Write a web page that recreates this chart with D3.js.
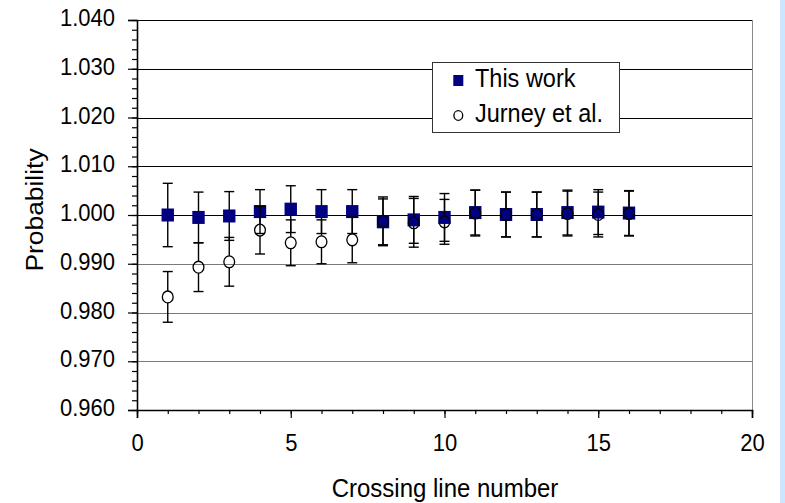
<!DOCTYPE html>
<html>
<head>
<meta charset="utf-8">
<script src="https://cdn.jsdelivr.net/npm/d3@7"></script>
<style>
  html, body { margin: 0; padding: 0; background: #fff; }
  svg { display: block; font-family: "Liberation Sans", Arial, sans-serif; }
</style>
</head>
<body>
<svg id="chart" width="785" height="503"></svg>
<script>
// Crossing line numbers
const crossing = [1, 2, 3, 4, 5, 6, 7, 8, 9, 10, 11, 12, 13, 14, 15, 16];

// "This work" probabilities and their error bar half-widths
const thisWork    = [1.0000, 0.9995, 0.9998, 1.0007, 1.0012, 1.0007, 1.0007, 0.9986,
                     0.9990, 0.9995, 1.0005, 1.0001, 1.0001, 1.0005, 1.0006, 1.0004];
const thisWorkErr = [0.0065, 0.0052, 0.0050, 0.0045, 0.0048, 0.0045, 0.0045, 0.0047,
                     0.0048, 0.0049, 0.0046, 0.0046, 0.0046, 0.0046, 0.0046, 0.0046];

// Jurney et al. probabilities and their error bar half-widths
const jurney    = [0.9832, 0.9893, 0.9904, 0.9969, 0.9943, 0.9945, 0.9949, 0.9987,
                   0.9984, 0.9986, 1.0004, 1.0001, 1.0001, 1.0003, 1.0001, 1.0003];
const jurneyErr = [0.0052, 0.0050, 0.0050, 0.0049, 0.0047, 0.0045, 0.0047, 0.0050,
                   0.0050, 0.0046, 0.0047, 0.0046, 0.0046, 0.0046, 0.0046, 0.0046];

// Axis ticks
const yTicks = [0.960, 0.970, 0.980, 0.990, 1.000, 1.010, 1.020, 1.030, 1.040];
const xTicks = [0, 5, 10, 15, 20];
const seriesNames = ["This work", "Jurney et al."];

const svg = d3.select("#chart");
const W = 785, H = 503;
const plot = { left: 137, right: 752, top: 20, bottom: 410 };
const stretch = 1.1;      // glyphs are drawn slightly tall
const navy = "#000080";

// Light blue strip along the right edge of the page
svg.append("rect").attr("x", 780).attr("y", 0).attr("width", 5).attr("height", H)
  .attr("fill", "#cce7fd");

const x = d3.scaleLinear().domain([0, 20]).range([plot.left, plot.right]);
const y = d3.scaleLinear().domain([0.960, 1.040]).range([plot.bottom, plot.top]);

// Horizontal gridlines
svg.append("g").selectAll("line")
  .data(yTicks.filter(d => d > 0.960))
  .join("line")
  .attr("x1", plot.left).attr("x2", plot.right)
  .attr("y1", d => Math.round(y(d)) + 0.5).attr("y2", d => Math.round(y(d)) + 0.5)
  .attr("stroke", d => d >= 0.9995 ? "#000" : "#7a7a7a")
  .attr("stroke-width", 1);

// Right border of the plot area
svg.append("line")
  .attr("x1", plot.right + 0.5).attr("x2", plot.right + 0.5)
  .attr("y1", plot.top).attr("y2", plot.bottom)
  .attr("stroke", "#8a8a8a").attr("stroke-width", 1);

// Y axis: minor ticks every 0.002, major ticks every 0.010
const yMinor = d3.range(0.960, 1.0401, 0.002);
svg.append("g").attr("transform", `translate(${plot.left},0)`)
  .call(d3.axisLeft(y).tickValues(yMinor).tickSize(5).tickFormat(""))
  .call(g => g.select(".domain").remove())
  .call(g => g.selectAll("line").attr("stroke", "#000").attr("stroke-width", 1.2));

const yAxis = svg.append("g").attr("transform", `translate(${plot.left},0)`)
  .call(d3.axisLeft(y).tickValues(yTicks).tickSize(9).tickPadding(13)
        .tickFormat(d3.format(".3f")));
yAxis.select(".domain").attr("stroke", "#000").attr("stroke-width", 1.6);
yAxis.selectAll("line").attr("stroke", "#000").attr("stroke-width", 1.2);
yAxis.selectAll("text")
  .attr("font-size", 22).attr("fill", "#000")
  .attr("dy", null).attr("y", 5.7 / stretch)
  .attr("transform", `scale(1,${stretch})`)
  .style("font-family", "'Liberation Sans', Arial, sans-serif");

// X axis: minor ticks every 1, major ticks every 5
svg.append("g").attr("transform", `translate(0,${plot.bottom})`)
  .call(d3.axisBottom(x).tickValues(d3.range(0, 21, 1)).tickSize(4).tickFormat(""))
  .call(g => g.select(".domain").remove())
  .call(g => g.selectAll("line").attr("stroke", "#000").attr("stroke-width", 1.2));

const xAxis = svg.append("g").attr("transform", `translate(0,${plot.bottom})`)
  .call(d3.axisBottom(x).tickValues(xTicks).tickSize(8).tickFormat(d3.format("d")));
xAxis.select(".domain").attr("stroke", "#000").attr("stroke-width", 1.6);
xAxis.selectAll("line").attr("stroke", "#000").attr("stroke-width", 1.2);
xAxis.selectAll("text")
  .attr("font-size", 22).attr("fill", "#000")
  .attr("dy", null).attr("y", 41.5 / stretch)
  .attr("transform", `scale(1,${stretch})`)
  .style("font-family", "'Liberation Sans', Arial, sans-serif");

// Axis titles
svg.append("text")
  .attr("transform", `translate(445,496.5) scale(1,${stretch})`)
  .attr("text-anchor", "middle").attr("font-size", 24).attr("fill", "#000")
  .text("Crossing line number");

svg.append("text")
  .attr("transform", `translate(42.5,210) rotate(-90) scale(${stretch},1)`)
  .attr("text-anchor", "middle").attr("font-size", 24).attr("fill", "#000")
  .text("Probability");

const capHalf = 5;
const rows1 = crossing.map((c, i) => ({ c, v: thisWork[i], e: thisWorkErr[i] }));
const rows2 = crossing.map((c, i) => ({ c, v: jurney[i], e: jurneyErr[i] }));

// Error bars for "This work"
function errorBars(g, rows, gap) {
  const bars = g.selectAll("g").data(rows).join("g");
  bars.append("line")
    .attr("x1", d => x(d.c)).attr("x2", d => x(d.c))
    .attr("y1", d => y(d.v + d.e)).attr("y2", d => y(d.v) - gap);
  bars.append("line")
    .attr("x1", d => x(d.c)).attr("x2", d => x(d.c))
    .attr("y1", d => y(d.v) + gap).attr("y2", d => y(d.v - d.e));
  bars.append("line")
    .attr("x1", d => x(d.c) - capHalf).attr("x2", d => x(d.c) + capHalf)
    .attr("y1", d => y(d.v + d.e)).attr("y2", d => y(d.v + d.e));
  bars.append("line")
    .attr("x1", d => x(d.c) - capHalf).attr("x2", d => x(d.c) + capHalf)
    .attr("y1", d => y(d.v - d.e)).attr("y2", d => y(d.v - d.e));
  bars.selectAll("line").attr("stroke", "#000").attr("stroke-width", 1.4);
}

errorBars(svg.append("g"), rows1, 0);

// "This work" square markers
svg.append("g").selectAll("rect").data(rows1).join("rect")
  .attr("x", d => x(d.c) - 6.2).attr("y", d => y(d.v) - 6.5)
  .attr("width", 12.4).attr("height", 13)
  .attr("fill", navy);

// Jurney et al. error bars and open circle markers
errorBars(svg.append("g"), rows2, 6);
svg.append("g").selectAll("ellipse").data(rows2).join("ellipse")
  .attr("cx", d => x(d.c)).attr("cy", d => y(d.v))
  .attr("rx", 5.4).attr("ry", 5.9)
  .attr("fill", "none").attr("stroke", "#000").attr("stroke-width", 1.3);

// Legend
const legend = svg.append("g");
legend.append("rect")
  .attr("x", 432.5).attr("y", 62.5).attr("width", 187).attr("height", 70)
  .attr("fill", "#fff").attr("stroke", "#333").attr("stroke-width", 1);
legend.append("rect")
  .attr("x", 453.3).attr("y", 75).attr("width", 10).attr("height", 11)
  .attr("fill", navy);
legend.append("ellipse")
  .attr("cx", 458.3).attr("cy", 115.5).attr("rx", 4.4).attr("ry", 4.8)
  .attr("fill", "none").attr("stroke", "#000").attr("stroke-width", 1.3);
legend.selectAll("text.lbl").data(seriesNames).join("text")
  .attr("class", "lbl")
  .attr("transform", (d, i) => `translate(475,${[87.3, 121.7][i]}) scale(1,${stretch})`)
  .attr("font-size", 23.5).attr("fill", "#000")
  .text(d => d);
</script>
</body>
</html>
